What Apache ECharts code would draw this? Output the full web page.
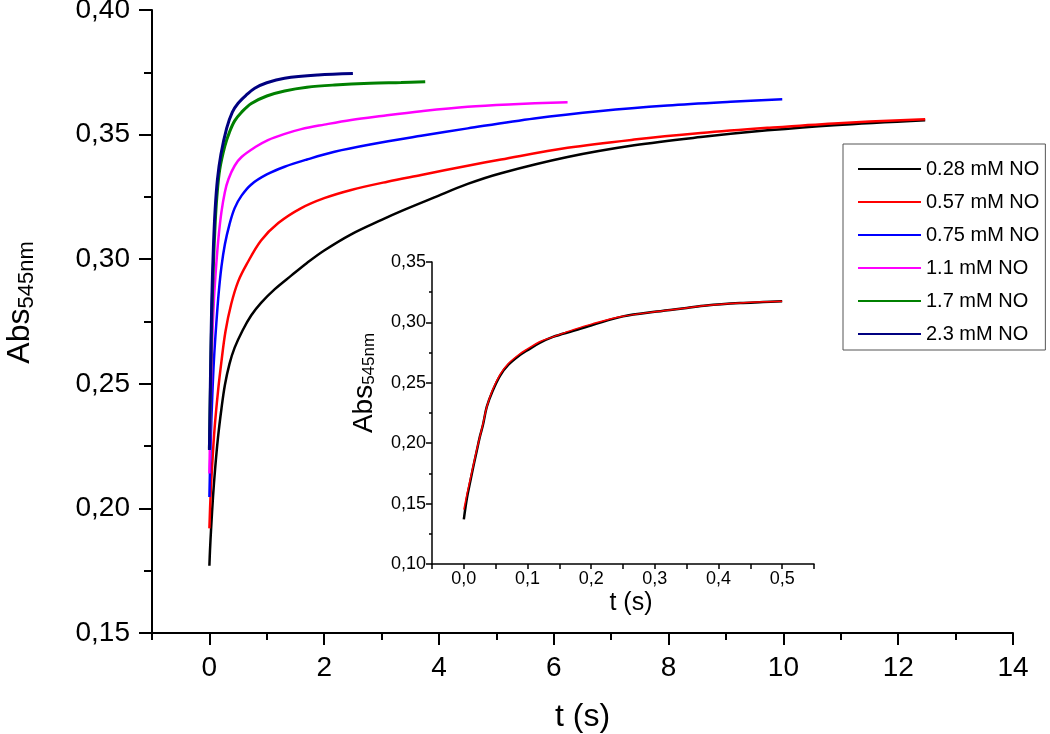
<!DOCTYPE html>
<html>
<head>
<meta charset="utf-8">
<script src="https://cdn.jsdelivr.net/npm/echarts@6/dist/echarts.min.js"></script>
<style>
html,body{margin:0;padding:0;background:#fff;}
#chart{width:1050px;height:734px;}
</style>
</head>
<body>
<div id="chart"></div>
<script>
// ---- data (t in s, Abs545nm) ----
const seriesNames = ['0.28 mM NO', '0.57 mM NO', '0.75 mM NO', '1.1 mM NO', '1.7 mM NO', '2.3 mM NO'];
const seriesColors = ['#000000', '#ff0000', '#0000ff', '#ff00ff', '#008000', '#000080'];

const no028 = [[0,0.177],[0.01,0.183],[0.03,0.192],[0.064,0.205],[0.1,0.216],[0.15,0.2285],[0.21,0.240],[0.27,0.2495],[0.35,0.258],[0.44,0.2645],[0.58,0.2715],[0.73,0.2775],[0.9,0.2825],[1.14,0.2880],[1.43,0.2935],[1.7,0.2985],[2.0,0.3035],[2.47,0.3100],[3.0,0.3158],[3.34,0.3193],[3.92,0.3248],[4.5,0.3302],[5.08,0.3345],[6.24,0.3410],[7.4,0.3457],[8.56,0.3490],[9.72,0.3517],[10.88,0.3538],[12.47,0.3558]];
const no057 = [[0,0.192],[0.02,0.205],[0.05,0.218],[0.09,0.232],[0.15,0.247],[0.21,0.259],[0.28,0.271],[0.38,0.282],[0.5,0.291],[0.65,0.298],[0.9,0.3075],[1.2,0.3145],[1.6,0.3205],[2.0,0.3245],[2.47,0.3278],[3.1,0.3311],[3.69,0.3338],[4.5,0.3375],[5.08,0.3400],[6.24,0.3447],[7.4,0.3480],[8.56,0.3506],[9.72,0.3527],[10.88,0.3545],[12.47,0.3562]];
const no075 = [[0,0.2046],[0.02,0.225],[0.05,0.245],[0.08,0.260],[0.12,0.274],[0.16,0.286],[0.21,0.297],[0.27,0.306],[0.35,0.314],[0.44,0.3205],[0.56,0.3255],[0.73,0.3300],[1.0,0.3340],[1.31,0.3371],[1.7,0.3400],[2.18,0.3431],[2.8,0.3460],[3.69,0.3495],[4.5,0.3525],[5.66,0.3565],[6.82,0.3595],[7.98,0.3617],[9.08,0.3632],[9.98,0.3642]];
const no110 = [[0,0.214],[0.02,0.240],[0.05,0.268],[0.08,0.284],[0.12,0.298],[0.16,0.309],[0.21,0.319],[0.27,0.327],[0.33,0.332],[0.44,0.3375],[0.56,0.3410],[0.8,0.3450],[1.02,0.3478],[1.3,0.3502],[1.6,0.3522],[2.0,0.3540],[2.47,0.3559],[3.0,0.3575],[3.69,0.3594],[4.5,0.3612],[5.3,0.3622],[6.24,0.3630]];
const no170 = [[0,0.224],[0.02,0.250],[0.04,0.275],[0.07,0.298],[0.1,0.314],[0.13,0.325],[0.18,0.336],[0.27,0.3455],[0.35,0.3510],[0.44,0.3555],[0.56,0.3590],[0.73,0.3625],[1.0,0.3655],[1.31,0.3675],[1.7,0.3690],[2.18,0.3699],[2.8,0.3706],[3.34,0.3709],[3.76,0.3712]];
const no230 = [[0,0.2234],[0.02,0.255],[0.04,0.282],[0.07,0.305],[0.1,0.320],[0.14,0.332],[0.2,0.3420],[0.3,0.3525],[0.4,0.3590],[0.5,0.3626],[0.65,0.3660],[0.79,0.3686],[1.0,0.3708],[1.31,0.3726],[1.89,0.3739],[2.5,0.3745]];
const mainData = [no028, no057, no075, no110, no170, no230];

// inset: 0.28 mM NO trace (first 0.5 s) and its fit
const insetTrace = [[0,0.137],[0.005,0.155],[0.01,0.168],[0.015,0.181],[0.02,0.193],[0.025,0.205],[0.03,0.215],[0.036,0.230],[0.045,0.243],[0.057,0.256],[0.07,0.265],[0.088,0.273],[0.1,0.277],[0.119,0.283],[0.14,0.288],[0.172,0.293],[0.203,0.298],[0.25,0.305],[0.303,0.309],[0.35,0.312],[0.381,0.314],[0.434,0.316],[0.47,0.3168],[0.5,0.3175]];
const insetFit = [[0,0.145],[0.005,0.158],[0.01,0.170],[0.015,0.182],[0.02,0.194],[0.025,0.205],[0.03,0.216],[0.036,0.230],[0.045,0.244],[0.057,0.257],[0.07,0.266],[0.088,0.274],[0.1,0.278],[0.119,0.284],[0.14,0.288],[0.172,0.294],[0.203,0.299],[0.25,0.305],[0.303,0.309],[0.35,0.312],[0.381,0.314],[0.434,0.316],[0.47,0.317],[0.5,0.3175]];

// ticks
const xMajorTicks = [0, 2, 4, 6, 8, 10, 12, 14];
const xMinorTicks = [-1, 1, 3, 5, 7, 9, 11, 13];

const FONT = 'Liberation Sans, Arial, Helvetica, sans-serif';
const comma = (v, d) => v.toFixed(d).replace('.', ',');

const chart = echarts.init(document.getElementById('chart'), null, {renderer: 'canvas'});

const mainSeries = mainData.map((d, i) => ({
  name: seriesNames[i], type: 'line', xAxisIndex: 0, yAxisIndex: 0,
  data: d, smooth: 0.35, symbol: 'none', showSymbol: false,
  lineStyle: {color: seriesColors[i], width: (i >= 4 ? 3 : 2.5)},
  itemStyle: {color: seriesColors[i]},
  z: 2 + i, animation: false
}));

const option = {
  animation: false,
  backgroundColor: '#ffffff',
  textStyle: {fontFamily: FONT, color: '#000'},
  grid: [
    {left: 152, top: 10, width: 861, height: 623, containLabel: false, outerBoundsMode: 'none'},
    {left: 432, top: 262, width: 382, height: 302, containLabel: false, outerBoundsMode: 'none'}
  ],
  legend: {
    data: seriesNames, orient: 'vertical', left: 843, top: 144,
    itemWidth: 63, itemHeight: 14, itemGap: 13, itemStyle: {opacity: 0},
    padding: [15, 6, 6, 14], borderColor: '#555', borderWidth: 1,
    textStyle: {fontFamily: FONT, fontSize: 20, color: '#000'},
    selectedMode: false
  },
  xAxis: [
    {type: 'value', gridIndex: 0, min: -1, max: 14, interval: 1, position: 'bottom',
     name: 't (s)', nameLocation: 'middle', nameGap: 68,
     nameTextStyle: {fontSize: 32, fontFamily: FONT, color: '#000'},
     axisLine: {show: true, onZero: false, lineStyle: {color: '#000', width: 2}},
     axisTick: {show: true, customValues: xMajorTicks, length: 12, lineStyle: {color: '#000', width: 2}},
     axisLabel: {customValues: xMajorTicks, fontSize: 28, fontFamily: FONT, color: '#000', margin: 21, formatter: v => String(v)},
     splitLine: {show: false}},
    {type: 'value', gridIndex: 0, min: -1, max: 14, interval: 1, position: 'bottom',
     axisLine: {show: false},
     axisTick: {show: true, customValues: xMinorTicks, length: 7, lineStyle: {color: '#000', width: 2}},
     axisLabel: {show: false}, splitLine: {show: false}},
    {type: 'value', gridIndex: 1, min: -0.05, max: 0.55, interval: 0.05, position: 'bottom',
     name: 't (s)', nameLocation: 'middle', nameGap: 27,
     nameTextStyle: {fontSize: 25, fontFamily: FONT, color: '#000', padding: [0, 0, 0, 16]},
     axisLine: {show: true, onZero: false, lineStyle: {color: '#000', width: 1.5}},
     axisTick: {show: true, length: 5, lineStyle: {color: '#000', width: 1.5}},
     axisLabel: {fontSize: 18, fontFamily: FONT, color: '#000', margin: 6,
       formatter: v => { const k = Math.round(v * 100); return (k % 10 === 0 && k >= 0) ? comma(v, 1) : ''; }},
     splitLine: {show: false}}
  ],
  yAxis: [
    {type: 'value', gridIndex: 0, min: 0.15, max: 0.40, interval: 0.05,
     name: '{a|Abs}{b|545nm}', nameLocation: 'middle', nameRotate: 90, nameGap: 114,
     nameTextStyle: {color: '#000', fontFamily: FONT, padding: [0, 0, 0, 38], rich: {
       a: {fontSize: 32, fontFamily: FONT, color: '#000'},
       b: {fontSize: 22, fontFamily: FONT, color: '#000', padding: [13, 0, 0, 0], verticalAlign: 'bottom'}}},
     axisLine: {show: true, onZero: false, lineStyle: {color: '#000', width: 2}},
     axisTick: {show: true, length: 13, lineStyle: {color: '#000', width: 2}},
     minorTick: {show: true, splitNumber: 2, length: 8, lineStyle: {color: '#000', width: 2}},
     axisLabel: {fontSize: 28, fontFamily: FONT, color: '#000', margin: 22, formatter: v => comma(v, 2)},
     splitLine: {show: false}, minorSplitLine: {show: false}},
    {type: 'value', gridIndex: 1, min: 0.10, max: 0.35, interval: 0.05,
     name: '{a|Abs}{b|545nm}', nameLocation: 'middle', nameRotate: 90, nameGap: 54,
     nameTextStyle: {color: '#000', fontFamily: FONT, padding: [0, 0, 0, 60], rich: {
       a: {fontSize: 28, fontFamily: FONT, color: '#000'},
       b: {fontSize: 17, fontFamily: FONT, color: '#000', padding: [10, 0, 0, 0], verticalAlign: 'bottom'}}},
     axisLine: {show: true, onZero: false, lineStyle: {color: '#000', width: 1.5}},
     axisTick: {show: true, length: 6, lineStyle: {color: '#000', width: 1.5}},
     minorTick: {show: true, splitNumber: 2, length: 3, lineStyle: {color: '#000', width: 1.5}},
     axisLabel: {fontSize: 18, fontFamily: FONT, color: '#000', margin: 6, formatter: v => comma(v, 2)},
     splitLine: {show: false}, minorSplitLine: {show: false}}
  ],
  series: mainSeries.concat([
    {name: 'inset data', type: 'line', xAxisIndex: 2, yAxisIndex: 1, data: insetTrace, smooth: 0.35,
     symbol: 'none', lineStyle: {color: '#000', width: 2.5}, z: 10},
    {name: 'inset fit', type: 'line', xAxisIndex: 2, yAxisIndex: 1, data: insetFit, smooth: 0.35,
     symbol: 'none', lineStyle: {color: '#ff0000', width: 1.5}, z: 11}
  ])
};
chart.setOption(option);
</script>
</body>
</html>
